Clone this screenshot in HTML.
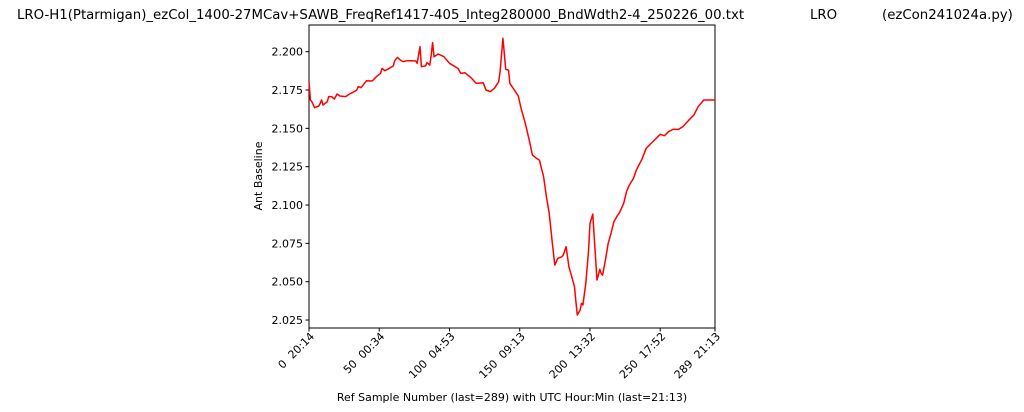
<!DOCTYPE html>
<html><head><meta charset="utf-8"><style>
body{margin:0;background:#fff;}
svg{display:block;font-family:"DejaVu Sans","Liberation Sans",sans-serif;}
text{white-space:pre;}
</style></head><body>
<svg id="chart" width="1024" height="412">
<text x="17" y="19" font-size="13.3" fill="#000">LRO-H1(Ptarmigan)_ezCol_1400-27MCav+SAWB_FreqRef1417-405_Integ280000_BndWdth2-4_250226_00.txt</text>
<text x="810" y="19" font-size="13.3">LRO</text>
<text x="882" y="19" font-size="13.3">(ezCon241024a.py)</text>
<rect x="309" y="25" width="406" height="303" fill="none" stroke="#000" stroke-width="1"/>
<g id="yaxis"></g>
<g id="xaxis"></g>
<path id="line" fill="none" stroke="#ff0000" stroke-width="1.5" stroke-linejoin="round"/>
<text x="0" y="0" transform="translate(262,176) rotate(-90)" text-anchor="middle" font-size="11">Ant Baseline</text>
<text x="512" y="401" text-anchor="middle" font-size="11">Ref Sample Number (last=289) with UTC Hour:Min (last=21:13)</text>
</svg>
<script>
const samples=[0,1,2,4,7,8,9,10,13,14,16,18,20,22,26,29,32,34,35,37,41,45,48,51,52,54,56,60,61,63,65,67,70,73,76,77,79,80,83,84,86,87,88,89,92,96,100,106,108,111,115,119,124,126,129,132,135,136,138,139,140,142,143,147,149,151,154,157,159,162,164,167,169,171,173,175,176,177,180,181,183,185,187,189,190,191,193,194,195,197,199,200,202,203,205,206,207,208,209,211,213,215,217,219,221,224,226,228,231,233,237,240,243,246,250,253,256,259,263,266,270,274,277,281,284,289];
const values=[2.1804,2.1685,2.1674,2.1635,2.1646,2.1663,2.1685,2.1652,2.1674,2.1707,2.1707,2.1691,2.1724,2.1711,2.1707,2.1724,2.1739,2.1750,2.1772,2.1765,2.1811,2.1809,2.1837,2.1859,2.1891,2.1876,2.1885,2.1907,2.1941,2.1963,2.1946,2.1935,2.1941,2.1941,2.1939,2.1924,2.2033,2.1902,2.1907,2.1928,2.1913,2.1978,2.2059,2.1967,2.1985,2.1967,2.1924,2.1891,2.1859,2.1863,2.1833,2.1793,2.1798,2.1750,2.1739,2.1761,2.1804,2.1870,2.2087,2.1989,2.1885,2.1880,2.1793,2.1739,2.1711,2.1630,2.1533,2.1413,2.1326,2.1304,2.1293,2.1185,2.1054,2.0946,2.0772,2.0609,2.0630,2.0652,2.0663,2.0674,2.0728,2.0598,2.0533,2.0467,2.0370,2.0283,2.0315,2.0359,2.0348,2.0489,2.0706,2.0880,2.0941,2.0793,2.0511,2.0543,2.0580,2.0554,2.0543,2.0641,2.0750,2.0815,2.0891,2.0924,2.0950,2.1011,2.1087,2.1130,2.1174,2.1228,2.1298,2.1370,2.1398,2.1424,2.1461,2.1452,2.1478,2.1493,2.1493,2.1511,2.1550,2.1587,2.1641,2.1685,2.1685,2.1685];
const yTicks=[2.025,2.050,2.075,2.100,2.125,2.150,2.175,2.200];
const xTicks=[0,50,100,150,200,250,289];
const xTickLabels=["0  20:14","50  00:34","100  04:53","150  09:13","200  13:32","250  17:52","289  21:13"];
const X0=309,X1=715,Y0=328,Y1=25,SMAX=289,VMIN=2.0198,VMAX=2.2174;
function xs(s){return X0+(s/SMAX)*(X1-X0);}
function ys(v){return Y0-(v-VMIN)/(VMAX-VMIN)*(Y0-Y1);}
const NS="http://www.w3.org/2000/svg";
const ya=document.getElementById('yaxis'),xa=document.getElementById('xaxis');
yTicks.forEach(t=>{
 const y=ys(t);
 const l=document.createElementNS(NS,'line');
 l.setAttribute('x1',X0-3.5);l.setAttribute('x2',X0);l.setAttribute('y1',y);l.setAttribute('y2',y);l.setAttribute('stroke','#000');
 
 
 ya.appendChild(l);
 const tx=document.createElementNS(NS,'text');
 tx.setAttribute('x',X0-6);tx.setAttribute('y',y+4);tx.setAttribute('text-anchor','end');tx.setAttribute('font-size','11');
 tx.textContent=t.toFixed(3);
 
 
 ya.appendChild(tx);
});
xTicks.forEach((t,i)=>{
 const x=xs(t);
 const l=document.createElementNS(NS,'line');
 l.setAttribute('x1',x);l.setAttribute('x2',x);l.setAttribute('y1',Y0);l.setAttribute('y2',Y0+3.5);l.setAttribute('stroke','#000');
 
 
 xa.appendChild(l);
 const tx=document.createElementNS(NS,'text');
 tx.setAttribute('text-anchor','end');tx.setAttribute('font-size','11');
 tx.setAttribute('transform','translate('+(x+6)+','+(Y0+9)+') rotate(-45)');
 tx.textContent=xTickLabels[i];
 
 
 xa.appendChild(tx);
});
document.getElementById('line').setAttribute('d',samples.map((s,i)=>(i?'L':'M')+xs(s).toFixed(1)+','+ys(values[i]).toFixed(1)).join(' '));
</script>
</body></html>
